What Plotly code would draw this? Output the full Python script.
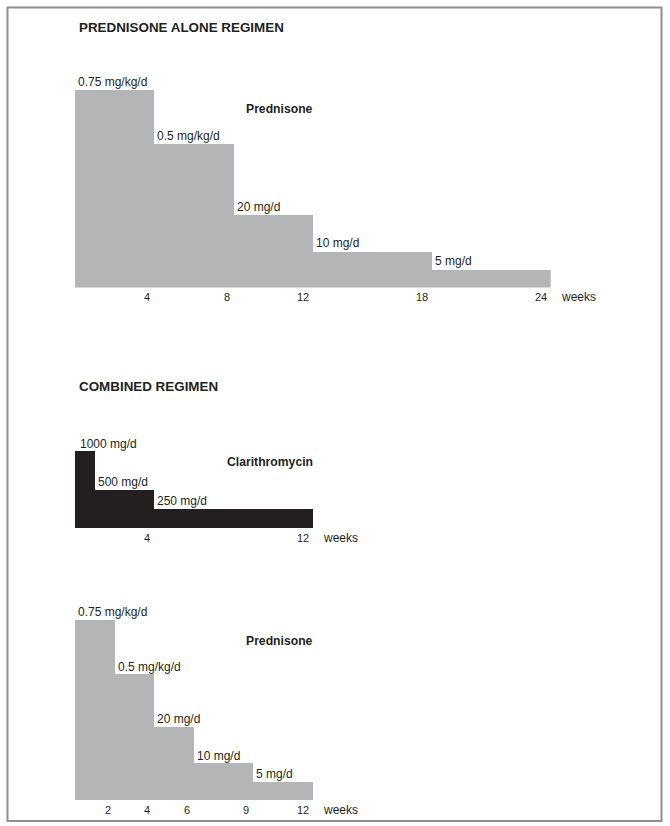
import plotly.graph_objects as go

# ---------------- data ----------------
pred_alone_start = [0, 4, 8, 12, 18]
pred_alone_end = [4, 8, 12, 18, 24]
pred_alone_height = [54.5, 39.5, 20, 10, 5]
pred_alone_labels = ["0.75 mg/kg/d", "0.5 mg/kg/d", "20 mg/d", "10 mg/d", "5 mg/d"]
pred_alone_ticks = [4, 8, 12, 18, 24]

clari_start = [0, 1, 4]
clari_end = [1, 4, 12]
clari_dose = [1000, 500, 250]
clari_labels = ["1000 mg/d", "500 mg/d", "250 mg/d"]
clari_ticks = [4, 12]

pred_comb_start = [0, 2, 4, 6, 9]
pred_comb_end = [2, 4, 6, 9, 12]
pred_comb_height = [49.5, 34.5, 20, 10, 5]
pred_comb_labels = ["0.75 mg/kg/d", "0.5 mg/kg/d", "20 mg/d", "10 mg/d", "5 mg/d"]
pred_comb_ticks = [2, 4, 6, 9, 12]

titles = ["PREDNISONE ALONE REGIMEN", "COMBINED REGIMEN"]
drug_names = ["Prednisone", "Clarithromycin", "Prednisone"]

# ---------------- style ----------------
W, H = 670, 826
GRAY = "#b4b5b7"
BLACK = "#231f20"
TXT = "#231f20"
FONT = "Liberation Sans, Arial, sans-serif"


def X(px):
    return px / W


def Y(px):
    return 1 - px / H


fig = go.Figure()

panels = [
    dict(start=pred_alone_start, end=pred_alone_end, h=pred_alone_height,
         labels=pred_alone_labels, ticks=pred_alone_ticks, color=GRAY,
         base_px=287.5, scale=3.63, ymax=60, name=drug_names[0]),
    dict(start=clari_start, end=clari_end, h=clari_dose,
         labels=clari_labels, ticks=clari_ticks, color=BLACK,
         base_px=528.3, scale=0.0766, ymax=1200, name=drug_names[1]),
    dict(start=pred_comb_start, end=pred_comb_end, h=pred_comb_height,
         labels=pred_comb_labels, ticks=pred_comb_ticks, color=GRAY,
         base_px=800.0, scale=3.63, ymax=55, name=drug_names[2]),
]

x0_px, x24_px = 75.0, 550.7
annotations = []
for i, p in enumerate(panels, start=1):
    xa = "x" if i == 1 else f"x{i}"
    ya = "y" if i == 1 else f"y{i}"
    centers = [(s + e) / 2 for s, e in zip(p["start"], p["end"])]
    widths = [e - s for s, e in zip(p["start"], p["end"])]
    fig.add_trace(go.Bar(x=centers, y=p["h"], width=widths, xaxis=xa, yaxis=ya,
                         marker=dict(color=p["color"], line=dict(width=0)),
                         showlegend=False, hoverinfo="skip"))
    top_px = p["base_px"] - p["ymax"] * p["scale"]
    xkey = "xaxis" if i == 1 else f"xaxis{i}"
    ykey = "yaxis" if i == 1 else f"yaxis{i}"
    fig.update_layout({
        xkey: dict(domain=[X(x0_px), X(x24_px)], range=[0, 24], visible=False,
                   anchor=ya, fixedrange=True),
        ykey: dict(domain=[Y(p["base_px"]), Y(top_px)], range=[0, p["ymax"]],
                   visible=False, anchor=xa, fixedrange=True),
    })
    # dose labels
    for j, (s, hgt, lab) in enumerate(zip(p["start"], p["h"], p["labels"])):
        annotations.append(dict(x=s, y=hgt, xref=xa, yref=ya, text=lab,
                                showarrow=False, xanchor="left", yanchor="bottom",
                                xshift=3 if (i == 2 and j == 0) else 1, yshift=-1,
                                font=dict(size=12, color=TXT, family=FONT)))
    # week tick labels
    for t in p["ticks"]:
        annotations.append(dict(x=t, y=0, xref=xa, yref=ya, text=str(t),
                                showarrow=False, xanchor="right", yanchor="middle",
                                xshift=-2, yshift=-9.5,
                                font=dict(size=11, color=TXT, family=FONT)))
    annotations.append(dict(x=p["ticks"][-1], y=0, xref=xa, yref=ya, text="weeks",
                            showarrow=False, xanchor="left", yanchor="middle",
                            xshift=8, yshift=-9.5,
                            font=dict(size=12, color=TXT, family=FONT)))
    # drug name (right aligned at week 12)
    name_y_px = {1: 108.7, 2: 461.7, 3: 641.0}[i]
    annotations.append(dict(x=12, y=Y(name_y_px), xref=xa, yref="paper",
                            text=f"<b>{p['name']}</b>", showarrow=False,
                            xanchor="right", yanchor="middle", xshift=2,
                            font=dict(size=12.2, color=TXT, family=FONT)))

# section titles
for t, ypx in zip(titles, [27.0, 386.0]):
    annotations.append(dict(x=X(76.5), y=Y(ypx), xref="paper", yref="paper",
                            text=f"<b>{t}</b>", showarrow=False,
                            xanchor="left", yanchor="middle",
                            font=dict(size=13.4, color=TXT, family=FONT)))

fig.update_layout(
    width=W, height=H,
    margin=dict(l=0, r=0, t=0, b=0),
    paper_bgcolor="white", plot_bgcolor="rgba(0,0,0,0)",
    bargap=0, barmode="overlay",
    annotations=annotations,
    shapes=[dict(type="rect", xref="paper", yref="paper",
                 x0=X(7.5), x1=X(661.5), y0=Y(821), y1=Y(7.5),
                 line=dict(color="#8e8e8e", width=2), fillcolor="rgba(0,0,0,0)")],
)

# write page with zero body margin so the figure sits at the window origin
div = fig.to_html(full_html=False, include_plotlyjs=True,
                  config={"displayModeBar": False})
html = ("<!DOCTYPE html><html><head><meta charset='utf-8'>"
        "<style>html,body{margin:0;padding:0;overflow:hidden;background:white;}</style>"
        "</head><body>" + div + "</body></html>")
with open("out.html", "w", encoding="utf-8") as f:
    f.write(html)
